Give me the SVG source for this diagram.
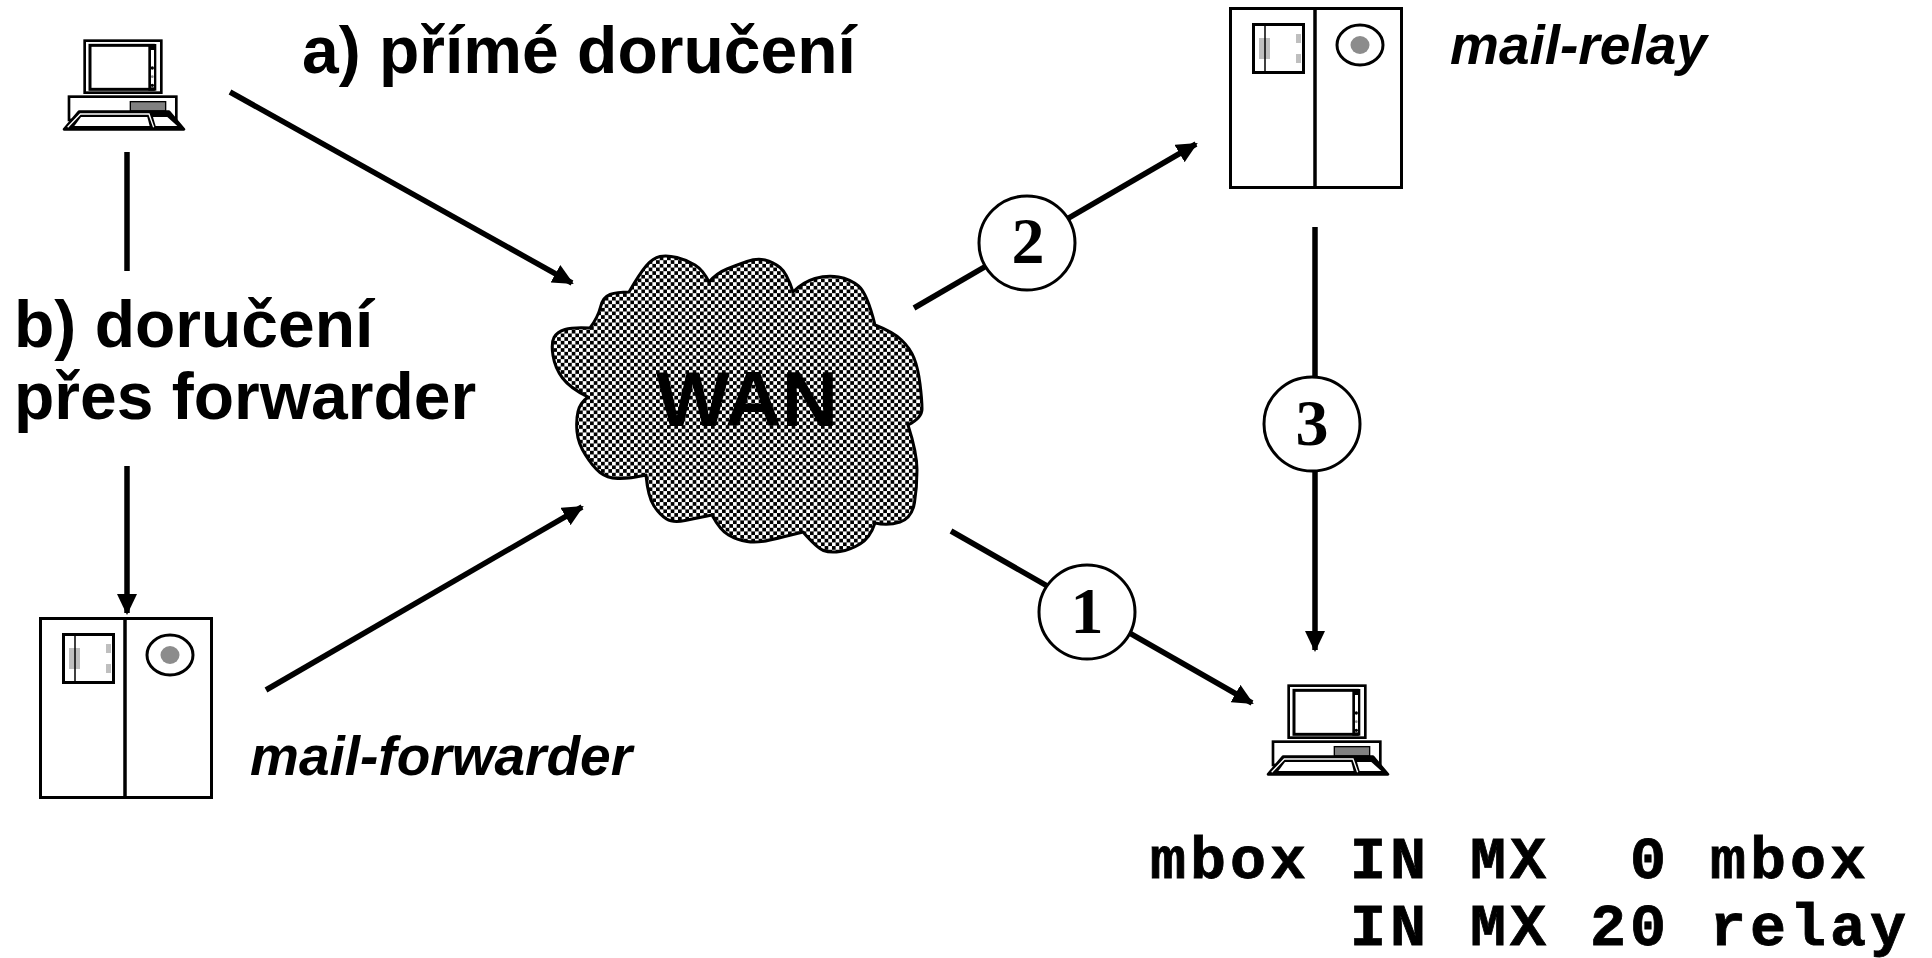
<svg xmlns="http://www.w3.org/2000/svg" width="1932" height="958" viewBox="0 0 1932 958">
<style>
.h{font-family:"Liberation Sans",Arial,sans-serif;font-weight:700;font-size:66px;fill:#000}
.i{font-family:"Liberation Sans",Arial,sans-serif;font-weight:700;font-style:italic;font-size:55px;fill:#000}
.m{font-family:"Liberation Mono","Courier New",monospace;font-weight:700;font-size:60px;letter-spacing:4px;fill:#000;stroke:#000;stroke-width:.8px;white-space:pre}
.n{font-family:"Liberation Serif","Times New Roman",serif;font-weight:700;font-size:66px;fill:#000;text-anchor:middle}
.c{stroke:#000;stroke-width:5.500;fill:none}
.o{fill:#fff;stroke:#000;stroke-width:3}
</style>
<defs>
<marker id="a" markerUnits="userSpaceOnUse" markerWidth="21" markerHeight="20" refX="19" refY="10" orient="auto"><path d="M0 0L21 10L0 20z" fill="#000"/></marker>
<pattern id="p" patternUnits="userSpaceOnUse" width="7.33" height="7.33"><rect width="7.33" height="7.33" fill="#fff"/><rect width="3.67" height="3.67" fill="#000"/><rect x="3.67" y="3.67" width="3.67" height="3.67" fill="#000"/></pattern>
<g id="server">
<rect x="1.500" y="1.500" width="171" height="179" fill="#fff" stroke="#000" stroke-width="3"/>
<path d="M86 0V182" stroke="#000" stroke-width="3.500"/>
<rect x="30" y="31" width="11" height="21" fill="#bfbfbf"/>
<rect x="67" y="27" width="5" height="9" fill="#bfbfbf"/>
<rect x="67" y="47" width="5" height="9" fill="#bfbfbf"/>
<rect x="24.500" y="17.500" width="50" height="48" fill="none" stroke="#000" stroke-width="3"/>
<path d="M36 17V65" stroke="#000" stroke-width="1.500"/>
<ellipse cx="131" cy="38" rx="23" ry="20" fill="none" stroke="#000" stroke-width="3"/>
<ellipse cx="131" cy="38" rx="9.500" ry="9" fill="#8c8c8c"/>
</g>
<g id="pc" transform="scale(.3333)">
<rect x="90" y="230" width="322" height="70" fill="#fff" stroke="#000" stroke-width="8"/>
<rect x="137" y="62" width="230" height="156" fill="#fff" stroke="#000" stroke-width="8"/>
<rect x="153" y="76" width="190" height="132" fill="#fff" stroke="#000" stroke-width="9"/>
<rect x="328" y="72" width="24" height="140" fill="#000"/>
<rect x="336" y="90" width="9" height="112" fill="#fff"/>
<circle cx="340" cy="144" r="5" fill="#000"/><circle cx="340" cy="170" r="4" fill="#888"/><circle cx="340" cy="196" r="5" fill="#000"/>
<rect x="274" y="245" width="106" height="28" fill="#808080" stroke="#000" stroke-width="4"/>
<path d="M75 328L120 275H390L435 328Z" fill="#000" stroke="#000" stroke-width="8" stroke-linejoin="round"/>
<path d="M106 318L126 291H325L332 318Z" fill="#fff"/>
<path d="M350 318L342 291H385L415 318Z" fill="#fff"/>
<path d="M86 322L124 282H330L344 322" fill="none" stroke="#fff" stroke-width="4"/>
</g>
</defs>
<g id="connectors">
<path class="c" d="M230 92L572 283" marker-end="url(#a)"/>
<path class="c" d="M127 152V271"/>
<path class="c" d="M127 466V613" marker-end="url(#a)"/>
<path class="c" d="M266 690L582 507" marker-end="url(#a)"/>
<path class="c" d="M914 308L1196 144" marker-end="url(#a)"/>
<path class="c" d="M1315 227V650" marker-end="url(#a)"/>
<path class="c" d="M951 531L1252 703" marker-end="url(#a)"/>
</g>
<g id="wan">
<path fill="url(#p)" stroke="#000" stroke-width="3" stroke-linejoin="round" d="M709 282Q717 273 727 269Q737 265 747 261.500Q757 258 765 260Q773 262 780 267.500Q787 273 793 292Q803 282 815 278.500Q827 275 838.500 277Q850 279 858.500 286Q867 293 875 325Q893 332 901.500 340Q910 348 914 358Q918 368 920 384Q922 400 922 409Q922 418 908 425Q917 453 917 470Q917 487 914.500 502.500Q912 518 900 522Q888 526 875 523Q870 538 860 544Q850 550 840 551.500Q830 553 823.500 550.500Q817 548 803 532Q783 537 770 540Q757 543 747 541.500Q737 540 728.500 535Q720 530 712 515Q697 518 685 520.500Q673 523 666.500 519Q660 515 654 506Q648 497 646 475Q628 479 617.500 478.500Q607 478 600 472.500Q593 467 585.500 455Q578 443 577 431.500Q576 420 578 411.500Q580 403 588 397Q570 388 562.500 378Q555 368 553 355.500Q551 343 554 337.500Q557 332 565 329.500Q573 327 590 328Q598 317 600.500 307Q603 297 610 294.500Q617 292 629 292Q640 273 646.500 265.500Q653 258 660 256.500Q667 255 677 257.500Q687 260 695 265Q703 270 709 282Z"/>
<text class="h" x="747" y="426" text-anchor="middle" style="font-size:78px">WAN</text>
</g>
<g id="label-a"><text class="h" x="302" y="73">a) přímé doručení</text></g>
<g id="label-b"><text class="h" x="14" y="347">b) doručení</text><text class="h" x="14" y="419">přes forwarder</text></g>
<g id="pc1"><use href="#pc" transform="translate(39 20)"/></g>
<g id="pc2"><use href="#pc" transform="translate(1243 665)"/></g>
<g id="relay"><use href="#server" transform="translate(1229 7)"/><text class="i" x="1450" y="64">mail-relay</text></g>
<g id="forwarder"><use href="#server" transform="translate(39 617)"/><text class="i" x="250" y="775">mail-forwarder</text></g>
<g id="n2"><ellipse class="o" cx="1027" cy="243" rx="48" ry="47"/><text class="n" x="1028" y="263">2</text></g>
<g id="n3"><ellipse class="o" cx="1312" cy="424" rx="48" ry="47"/><text class="n" x="1312" y="445">3</text></g>
<g id="n1"><ellipse class="o" cx="1087" cy="612" rx="48" ry="47"/><text class="n" x="1087" y="633">1</text></g>
<g id="mx"><text class="m" x="1150" y="878">mbox IN MX  0 mbox</text><text class="m" x="1350" y="945">IN MX 20 relay</text></g>
</svg>
